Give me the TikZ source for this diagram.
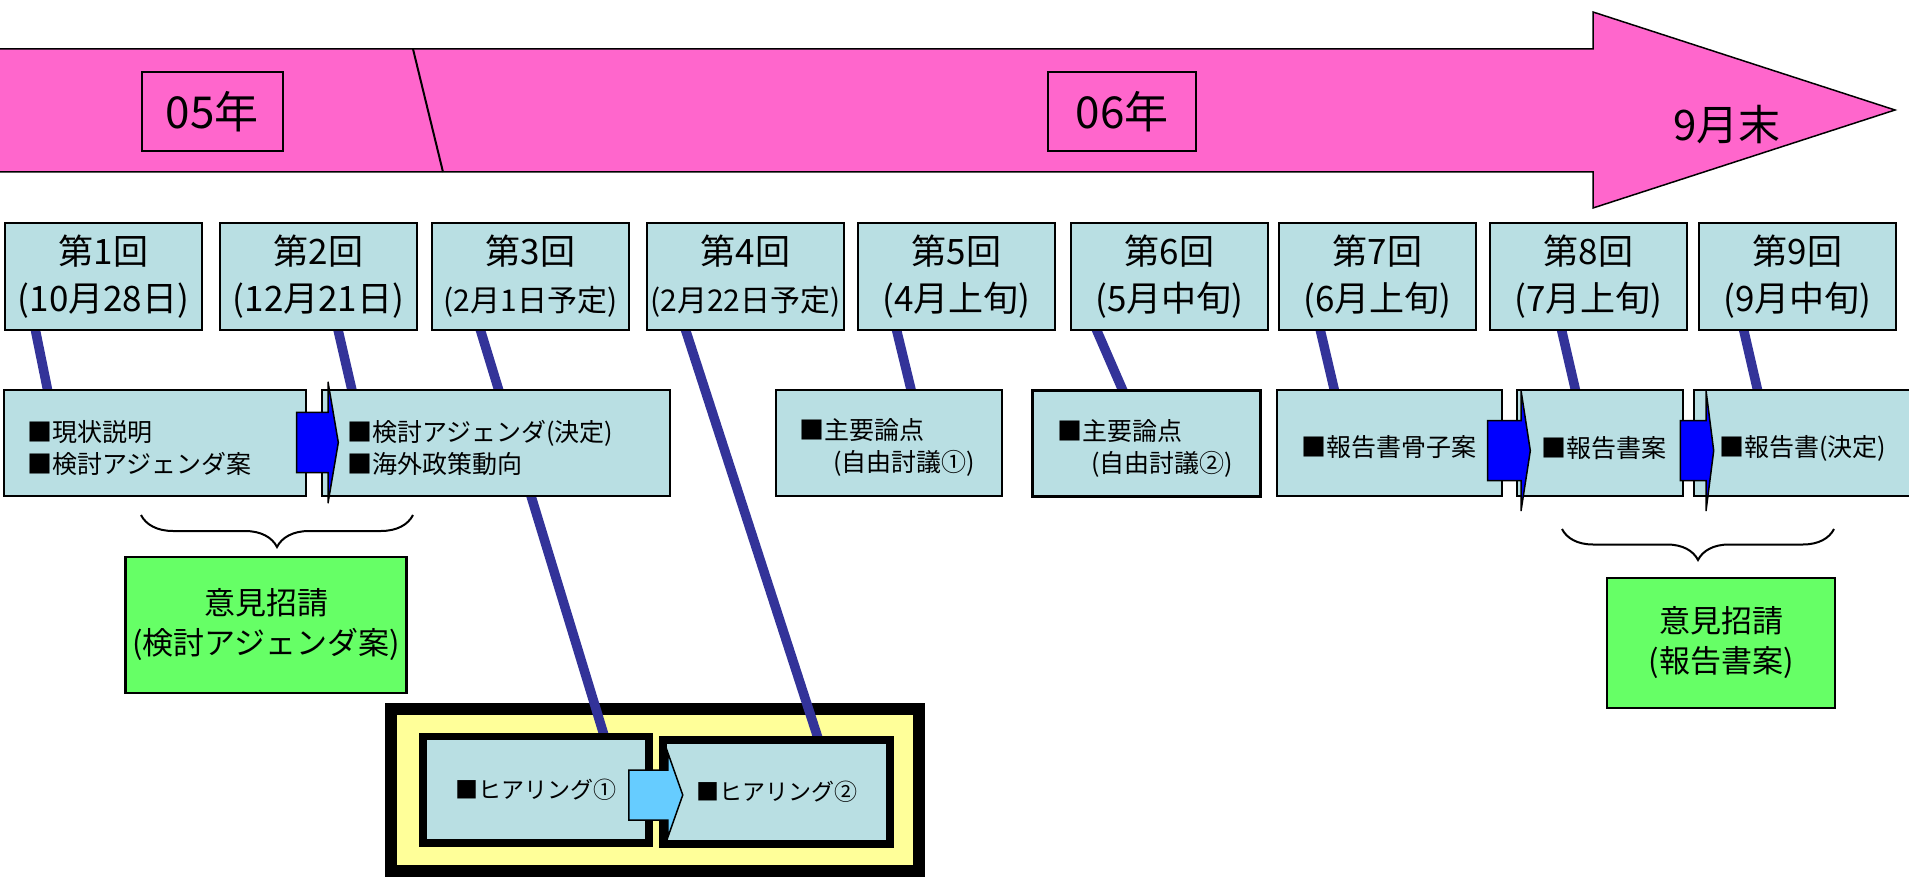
\documentclass[tikz,border=0pt]{standalone}
\usepackage{fontspec}
\setmainfont{Noto Sans CJK JP}
\usetikzlibrary{calc,decorations.pathreplacing}
\pgfdeclarelayer{back}
\pgfdeclarelayer{lines}
\pgfsetlayers{back,lines,main}
\definecolor{barpink}{HTML}{FF66CC}
\definecolor{boxblue}{HTML}{B9DFE3}
\definecolor{linknavy}{HTML}{333399}
\definecolor{arrblue}{HTML}{0000FF}
\definecolor{arrlight}{HTML}{66CCFF}
\definecolor{askgreen}{HTML}{66FF66}
\definecolor{framey}{HTML}{FFFF99}
\newcommand{\blockarrow}[6]{%
  \draw[#1] ($#2+(0,-#5)$) -- ++(#3,0) -- ++(0,{#5-#6}) -- ++(#4,#6) -- ++(-#4,#6) -- ++(0,{#5-#6}) -- ++(-#3,0) -- cycle;}

\begin{document}
\begin{tikzpicture}[x=1pt,y=-1pt]
	\tikzstyle{every node}+=[inner sep=0pt]
	\tikzstyle{kai}=[draw=black, line width=2pt, fill=boxblue, minimum width=197pt, minimum height=107pt, align=center, font=\fontsize{35}{47}\selectfont]
	\tikzstyle{topic}=[draw=black, line width=2pt, fill=boxblue, minimum height=106pt]
	\tikzstyle{topictxt}=[right, align=left, font=\fontsize{25}{32}\selectfont]
	\tikzstyle{hear}=[draw=black, fill=boxblue, font=\fontsize{23}{30}\selectfont]
	\tikzstyle{link}=[draw=linknavy, line width=9.5pt, shorten <=-4pt, shorten >=-4pt]
	\tikzstyle{ask}=[draw=black, line width=2.5pt, fill=askgreen, align=center, font=\fontsize{31}{40}\selectfont]
	\tikzstyle{year}=[draw=black, line width=2pt, minimum height=79pt, font=\fontsize{44}{48}\selectfont]
	\tikzstyle{bigarrow}=[draw=black, line width=1.5pt, fill=arrblue]
	\tikzstyle{smallarrow}=[draw=black, line width=1.5pt, fill=arrlight]
	\useasboundingbox (0,0) rectangle (1909,877);
	\draw [black, line width=1.5pt, fill=barpink] (-5,49) -- (1593,49) -- (1593,12) -- (1895,110) -- (1593,208) -- (1593,172) -- (-5,172) -- cycle;
	\draw [black, line width=2pt] (413,49) -- (443,172);
	\node [year, minimum width=141pt] (y05) at (212,112) {05年};
	\node [year, minimum width=148pt] (y06) at (1122,112) {06年};
	\node [font=\fontsize{42}{46}\selectfont] (end) at (1727,125) {9月末};
	\node [kai] (r1) at (103.5,276.5) {第1回\\(10月28日)};
	\node [kai] (r2) at (318.5,276.5) {第2回\\(12月21日)};
	\node [kai] (r3) at (530.5,276.5) {第3回\\\fontsize{30}{47}\selectfont(2月1日予定)};
	\node [kai] (r4) at (745.5,276.5) {第4回\\\fontsize{30}{47}\selectfont(2月22日予定)};
	\node [kai] (r5) at (956.5,276.5) {第5回\\(4月上旬)};
	\node [kai] (r6) at (1169.5,276.5) {第6回\\(5月中旬)};
	\node [kai] (r7) at (1377.5,276.5) {第7回\\(6月上旬)};
	\node [kai] (r8) at (1588.5,276.5) {第8回\\(7月上旬)};
	\node [kai] (r9) at (1797.5,276.5) {第9回\\(9月中旬)};
	\node [topic, minimum width=302pt] (t1) at (155,443) {};
	\node [topic, minimum width=348pt] (t2) at (496,443) {};
	\node [topic, minimum width=226pt] (t3) at (889,443) {};
	\node [topic, minimum width=228pt, line width=3pt] (t4) at (1146.5,443.5) {};
	\node [topic, minimum width=225pt] (t5) at (1389.5,443) {};
	\node [topic, minimum width=166pt] (t6) at (1600,443) {};
	\node [topic, minimum width=220pt] (t7) at (1804,443) {};
	\node [topictxt] (t1x) at (27,448) {■現状説明\\■検討アジェンダ案};
	\node [topictxt] (t2x) at (347,448) {■検討アジェンダ(決定)\\■海外政策動向};
	\node [topictxt] (t3x) at (799,447) {■主要論点\\\hspace*{34pt}(自由討議①)};
	\node [topictxt] (t4x) at (1057,448) {■主要論点\\\hspace*{34pt}(自由討議②)};
	\node [topictxt] (t5x) at (1301,447) {■報告書骨子案};
	\node [topictxt] (t6x) at (1541,448) {■報告書案};
	\node [topictxt] (t7x) at (1719,448) {■報告書(決定)};
	\begin{pgfonlayer}{back}
	\node [draw=black, line width=12pt, fill=framey, minimum width=528pt, minimum height=161.7pt] (hearing) at (654.7,790.2) {};
	\end{pgfonlayer}
	\node [hear, line width=7.5pt, minimum width=226pt, minimum height=106.5pt] (h1) at (536,789.75) {■ヒアリング①};
	\node [hear, line width=8pt, minimum width=227pt, minimum height=104pt] (h2) at (776.5,792) {■ヒアリング②};
	\node [ask, minimum width=281pt, minimum height=136pt] (g1) at (266,625) {意見招請\\(検討アジェンダ案)};
	\node [ask, minimum width=228pt, minimum height=130pt] (g2) at (1721,643) {意見招請\\(報告書案)};
	\draw [black, line width=2pt, decorate, decoration={brace, mirror, amplitude=32pt}] (141,515) -- (413,515);
	\draw [black, line width=2pt, decorate, decoration={brace, mirror, amplitude=31pt}] (1562,529) -- (1834,529);
	\begin{pgfonlayer}{lines}
	\draw [link] ([xshift=31.6pt]r1.south west) -- ([xshift=44.4pt]t1.north west);
	\draw [link] ([xshift=119.3pt]r2.south west) -- ([xshift=30.7pt]t2.north west);
	\draw [link] ([xshift=49.7pt]r3.south west) -- ([xshift=184pt]h1.north west);
	\draw [link] ([xshift=39.9pt]r4.south west) -- ([xshift=158.3pt]h2.north west);
	\draw [link] ([xshift=39.8pt]r5.south west) -- ([xshift=135.9pt]t3.north west);
	\draw [link] ([xshift=27pt]r6.south west) -- ([xshift=91.2pt]t4.north west);
	\draw [link] ([xshift=42.5pt]r7.south west) -- ([xshift=58.1pt]t5.north west);
	\draw [link] ([xshift=72.8pt]r8.south west) -- ([xshift=59.2pt]t6.north west);
	\draw [link] ([xshift=45.9pt]r9.south west) -- ([xshift=64.3pt]t7.north west);
	\end{pgfonlayer}
	\coordinate (ab) at ($(t1.east)+(-10.3,-0.5)$);
	\coordinate (ef) at ($(t5.east)+(-15.3,7.7)$);
	\coordinate (fg) at ($(t6.east)+(-3.7,7.7)$);
	\coordinate (hh) at ($(h1.east)+(-24,5.25)$);
	\blockarrow{bigarrow}{(ab)}{31.3}{10.3}{30.2}{60.7}
	\blockarrow{bigarrow}{(ef)}{33.3}{9.3}{30}{60.3}
	\blockarrow{bigarrow}{(fg)}{25.7}{7.7}{30}{60.3}
	\blockarrow{smallarrow}{(hh)}{39}{15}{25}{42.5}
\end{tikzpicture}
\end{document}
